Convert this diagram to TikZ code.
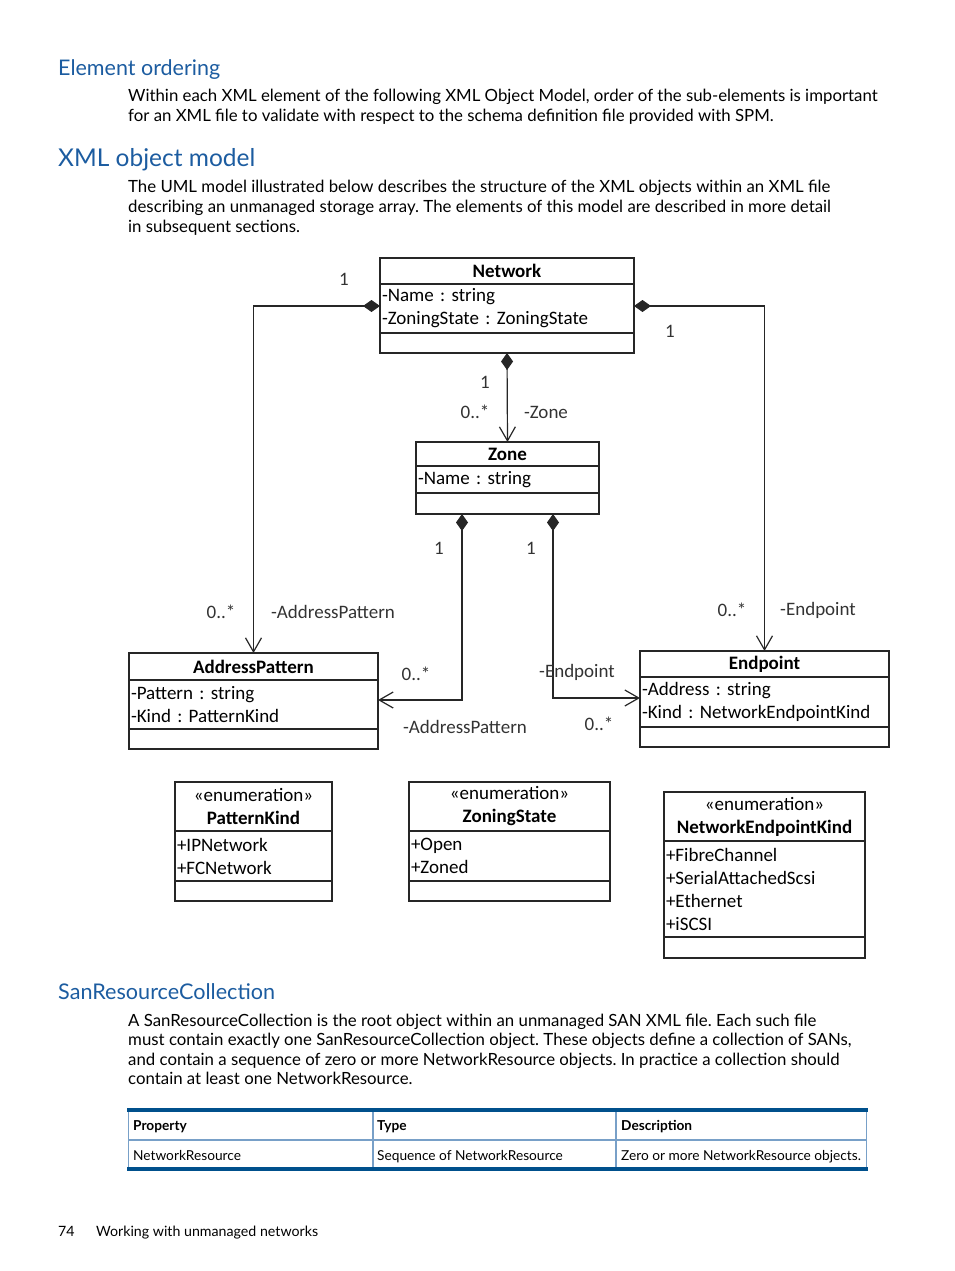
\documentclass[tikz,border=0pt]{standalone}
\usepackage{fontspec}
\setmainfont{Lato}
\newfontfamily\umlfont{Carlito}
\usetikzlibrary{positioning,arrows.meta}
\frenchspacing

\definecolor{hpblue}{RGB}{28,92,160}
\definecolor{tabledark}{RGB}{0,80,140}
\definecolor{tablelight}{RGB}{120,160,200}

\tikzset{
  heading/.style={anchor=base west, inner sep=0pt, text=hpblue},
  bodyline/.style={anchor=base west, inner sep=0pt, font=\fontsize{16.8}{19.5}\selectfont},
  classhead/.style={draw=black!85, line width=1.2pt, inner sep=0pt, outer sep=0pt, minimum height=26,
    font=\umlfont\fontsize{19}{23}\selectfont\bfseries},
  enumhead/.style={classhead, minimum height=49, align=center,
    font=\umlfont\fontsize{19}{23}\selectfont},
  classattr/.style={draw=black!85, line width=1.2pt, inner xsep=2pt, inner ysep=0pt, outer sep=0pt,
    align=left, font=\umlfont\fontsize{19}{23}\selectfont},
  classops/.style={draw=black!85, line width=1.2pt, inner sep=0pt, outer sep=0pt, minimum height=20},
  mult/.style={inner sep=0pt, text=black!80, font=\umlfont\fontsize{19}{23}\selectfont},
  compose/.style={draw=black!85, line width=1.2pt,
    {Diamond[length=17pt,width=12pt]}-{Straight Barb[length=14pt,width=16pt]}},
  tabletext/.style={anchor=base west, inner sep=0pt, font=\fontsize{13.7}{17}\selectfont},
}

\begin{document}
\begin{tikzpicture}[x=1pt,y=-1pt]
    \useasboundingbox (0,0) rectangle (954,1271);

    % headings and text
    \node[heading, font=\fontsize{21.5}{26}\selectfont] (h-order) at (58,76) {Element ordering};
    \foreach \l [count=\i] in {{Within each XML element of the following XML Object Model, order of the sub-elements is important},
        {for an XML file to validate with respect to the schema definition file provided with SPM.}} {
        \node[bodyline] (intro-\i) at (128,{102+19.5*(\i-1)}) {\l};
    }

    \node[heading, font=\fontsize{24.5}{30}\selectfont] (h-model) at (58,166) {XML object model};
    \foreach \l [count=\i] in {{The UML model illustrated below describes the structure of the XML objects within an XML file},
        {describing an unmanaged storage array. The elements of this model are described in more detail},
        {in subsequent sections.}} {
        \node[bodyline] (model-\i) at (128,{192+20*(\i-1)}) {\l};
    }

    % classes
    \node[classhead, minimum width=254, anchor=north west] (network) at (380,258) {Network};
    \node[classattr, text width=250, minimum height=49, below=0pt of network] (network-attr) {-Name : string\\-ZoningState : ZoningState};
    \node[classops, minimum width=254, below=0pt of network-attr] (network-ops) {};

    \node[classhead, minimum width=183, minimum height=24, anchor=north west] (zone) at (416,442) {Zone};
    \node[classattr, text width=179, minimum height=27, below=0pt of zone] (zone-attr) {-Name : string};
    \node[classops, minimum width=183, minimum height=21, below=0pt of zone-attr] (zone-ops) {};

    \node[classhead, minimum width=249, minimum height=27, anchor=north west] (addr) at (129,653) {AddressPattern};
    \node[classattr, text width=245, minimum height=49, below=0pt of addr] (addr-attr) {-Pattern : string\\-Kind : PatternKind};
    \node[classops, minimum width=249, below=0pt of addr-attr] (addr-ops) {};

    \node[classhead, minimum width=249, anchor=north west] (endpoint) at (640,651) {Endpoint};
    \node[classattr, text width=245, minimum height=50, below=0pt of endpoint] (endpoint-attr) {-Address : string\\-Kind : NetworkEndpointKind};
    \node[classops, minimum width=249, below=0pt of endpoint-attr] (endpoint-ops) {};

    % enumerations
    \node[enumhead, minimum width=157, anchor=north west] (patternkind) at (175,782) {«enumeration»\\\textbf{PatternKind}};
    \node[classattr, text width=153, minimum height=50, below=0pt of patternkind] (patternkind-attr) {+IPNetwork\\+FCNetwork};
    \node[classops, minimum width=157, below=0pt of patternkind-attr] (patternkind-ops) {};

    \node[enumhead, minimum width=201, anchor=north west] (zoningstate) at (409,782) {«enumeration»\\\textbf{ZoningState}};
    \node[classattr, text width=197, minimum height=50, below=0pt of zoningstate] (zoningstate-attr) {+Open\\+Zoned};
    \node[classops, minimum width=201, below=0pt of zoningstate-attr] (zoningstate-ops) {};

    \node[enumhead, minimum width=201, anchor=north west] (epkind) at (664,792) {«enumeration»\\\textbf{NetworkEndpointKind}};
    \node[classattr, text width=197, minimum height=96, below=0pt of epkind] (epkind-attr) {+FibreChannel\\+SerialAttachedScsi\\+Ethernet\\+iSCSI};
    \node[classops, minimum width=201, minimum height=21, below=0pt of epkind-attr] (epkind-ops) {};

    % associations
    \draw[compose] ([yshift=2.5pt]network-attr.west) -| (addr.north);
    \draw[compose] ([yshift=2.5pt]network-attr.east) -| (endpoint.north);
    \draw[compose] (network-ops.south) -- (zone.north);
    \draw[compose] ([xshift=-45.5pt]zone-ops.south) |- ([yshift=4.5pt]addr-attr.east);
    \draw[compose] ([xshift=45.5pt]zone-ops.south) |- ([yshift=4pt]endpoint-attr.west);

    % multiplicities and roles
    \node[mult] (m-na-1) at (344,279) {1};
    \node[mult] (m-na-2) at (221,612) {0..*};
    \node[mult] (r-na) at (333,612) {-AddressPattern};
    \node[mult] (m-ne-1) at (670,331) {1};
    \node[mult] (m-ne-2) at (732,610) {0..*};
    \node[mult] (r-ne) at (818,610) {-Endpoint};
    \node[mult] (m-nz-1) at (485,382) {1};
    \node[mult] (m-nz-2) at (475,412) {0..*};
    \node[mult] (r-nz) at (546,412) {-Zone};
    \node[mult] (m-za-1) at (439,548) {1};
    \node[mult] (m-za-2) at (416,674) {0..*};
    \node[mult] (r-za) at (465,727) {-AddressPattern};
    \node[mult] (m-ze-1) at (531,548) {1};
    \node[mult] (r-ze) at (577,672) {-Endpoint};
    \node[mult] (m-ze-2) at (599,724) {0..*};

    % SanResourceCollection
    \node[heading, font=\fontsize{21.6}{26}\selectfont] (h-san) at (58,999) {SanResourceCollection};
    \foreach \l [count=\i] in {{A SanResourceCollection is the root object within an unmanaged SAN XML file. Each such file},
        {must contain exactly one SanResourceCollection object. These objects define a collection of SANs,},
        {and contain a sequence of zero or more NetworkResource objects. In practice a collection should},
        {contain at least one NetworkResource.}} {
        \node[bodyline] (san-\i) at (128,{1026+19.5*(\i-1)}) {\l};
    }

    % table
    \foreach \x in {128.5, 373, 616, 866.5} {
        \draw[tablelight, line width=1.5pt] (\x,1110) -- (\x,1169);
    }
    \draw[tablelight, line width=1.5pt] (128,1140) -- (867,1140);
    \draw[tabledark, line width=3.5pt] (127,1110) -- (868,1110);
    \draw[tabledark, line width=3.5pt] (127,1169) -- (868,1169);
    \foreach \h/\x [count=\i] in {Property/133, Type/377, Description/621} {
        \node[tabletext, font=\fontsize{13.7}{17}\selectfont\bfseries] (th-\i) at (\x,1130) {\h};
    }
    \foreach \t/\x [count=\i] in {NetworkResource/133, Sequence of NetworkResource/377, Zero or more NetworkResource objects./621} {
        \node[tabletext] (td-\i) at (\x,1160) {\t};
    }

    % footer
    \node[tabletext, font=\fontsize{14.2}{17}\selectfont] (page-no) at (58,1236) {74};
    \node[tabletext, font=\fontsize{14.2}{17}\selectfont] (page-title) at (96,1236) {Working with unmanaged networks};
\end{tikzpicture}
\end{document}
